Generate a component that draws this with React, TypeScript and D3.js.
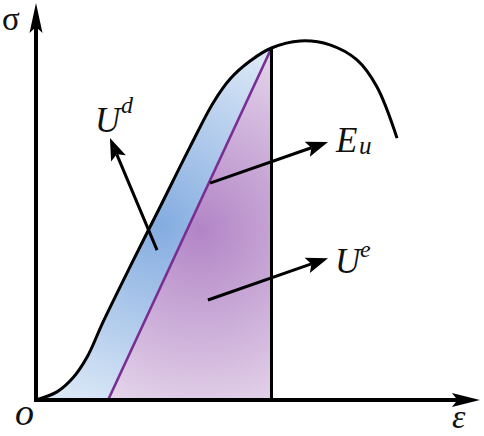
import React from "react";
import * as d3 from "d3";

// stress-strain curve, normalised so the unloading point is (1, 1)
const strain = [0, 0.089, 0.157, 0.217, 0.285, 0.399, 0.531, 0.654, 0.752, 0.824, 0.909, 1, 1.121, 1.248, 1.363, 1.448, 1.533];
const stress = [0, 0.023, 0.063, 0.122, 0.222, 0.378, 0.554, 0.719, 0.844, 0.912, 0.963, 1, 1.02, 1.009, 0.966, 0.889, 0.744];

const unloadStrain = 1;
const residualStrain = 0.306;
const axisMax = { x: 1.885, y: 1.128 };

// label arrows [fromX, fromY, toX, toY]
const arrows = [
  [0.514, 0.426, 0.314, 0.744], // U^d
  [0.739, 0.616, 1.24, 0.733], // E_u
  [0.73, 0.284, 1.24, 0.403], // U^e
];

const W = 484;
const H = 436;

export default function App() {
  const x = d3.scaleLinear().domain([0, 1]).range([36, 271.5]);
  const y = d3.scaleLinear().domain([0, 1]).range([400, 48]);

  const pts: [number, number][] = strain.map((e, i) => [e, stress[i]]);
  const line = d3
    .line<[number, number]>()
    .x((d) => x(d[0]))
    .y((d) => y(d[1]))
    .curve(d3.curveCatmullRom.alpha(0.5));

  const curvePath = line(pts) || "";
  const loadPts = pts.filter((p) => p[0] <= unloadStrain);
  const bluePath =
    (line(loadPts) || "") + `L${x(residualStrain)},${y(0)}Z`;
  const purplePath = `M${x(residualStrain)},${y(0)}L${x(unloadStrain)},${y(1)}L${x(unloadStrain)},${y(0)}Z`;

  const head = (x1: number, y1: number, x2: number, y2: number, len: number, hw: number) => {
    const dx = x2 - x1;
    const dy = y2 - y1;
    const L = Math.hypot(dx, dy);
    const ux = dx / L;
    const uy = dy / L;
    const bx = x2 - ux * len;
    const by = y2 - uy * len;
    const nx = x2 - ux * len * 0.8;
    const ny = y2 - uy * len * 0.8;
    return {
      shaft: [x1, y1, nx, ny],
      d: `M${x2},${y2}L${bx - uy * hw},${by + ux * hw}L${nx},${ny}L${bx + uy * hw},${by - ux * hw}Z`,
    };
  };

  const xAxis = head(x(0) - 2, y(0), x(axisMax.x), y(0), 28, 7);
  const yAxis = head(x(0), y(0) + 2, x(0), y(axisMax.y), 30, 6.5);

  const font = "'Liberation Serif', 'Times New Roman', serif";

  return (
    <svg width={W} height={H} style={{ position: "absolute", left: 0, top: 0, background: "#fff" }}>
      <defs>
        <radialGradient id="blue" gradientUnits="userSpaceOnUse" cx={160} cy={225} r={190}>
          <stop offset="0" stopColor="#84ace0" />
          <stop offset="1" stopColor="#d8e6f6" />
        </radialGradient>
        <radialGradient id="purple" gradientUnits="userSpaceOnUse" cx={200} cy={230} r={190}>
          <stop offset="0" stopColor="#b285c6" />
          <stop offset="1" stopColor="#e4d4ea" />
        </radialGradient>
      </defs>

      <path d={bluePath} fill="url(#blue)" />
      <path d={purplePath} fill="url(#purple)" />

      {/* unloading line */}
      <line
        x1={x(residualStrain)}
        y1={y(0)}
        x2={x(unloadStrain)}
        y2={y(1)}
        stroke="#7a2d92"
        strokeWidth={2.6}
      />
      <line x1={x(unloadStrain)} y1={y(0)} x2={x(unloadStrain)} y2={y(1)} stroke="#000" strokeWidth={3} />

      <path d={curvePath} fill="none" stroke="#000" strokeWidth={3} />

      {/* axes */}
      {[xAxis, yAxis].map((a, i) => (
        <g key={i}>
          <line x1={a.shaft[0]} y1={a.shaft[1]} x2={a.shaft[2]} y2={a.shaft[3]} stroke="#000" strokeWidth={4} />
          <path d={a.d} fill="#000" />
        </g>
      ))}

      {arrows.map((a, i) => {
        const h = head(x(a[0]), y(a[1]), x(a[2]), y(a[3]), 22, 8);
        return (
          <g key={i}>
            <line x1={h.shaft[0]} y1={h.shaft[1]} x2={h.shaft[2]} y2={h.shaft[3]} stroke="#000" strokeWidth={3} />
            <path d={h.d} fill="#000" />
          </g>
        );
      })}

      <g fontFamily={font} fill="#111">
        <text x={2} y={30} fontSize={33}>σ</text>
        <text x={15} y={425} fontSize={38} fontStyle="italic">o</text>
        <text x={452} y={428} fontSize={34} fontStyle="italic">ε</text>

        <text x={95} y={132} fontSize={35} fontStyle="italic">U</text>
        <text x={121} y={113} fontSize={24} fontStyle="italic">d</text>

        <text x={336} y={152} fontSize={35} fontStyle="italic">E</text>
        <text x={359} y={154} fontSize={25} fontStyle="italic">u</text>

        <text x={335} y={273} fontSize={35} fontStyle="italic">U</text>
        <text x={360} y={257} fontSize={24} fontStyle="italic">e</text>
      </g>
    </svg>
  );
}
